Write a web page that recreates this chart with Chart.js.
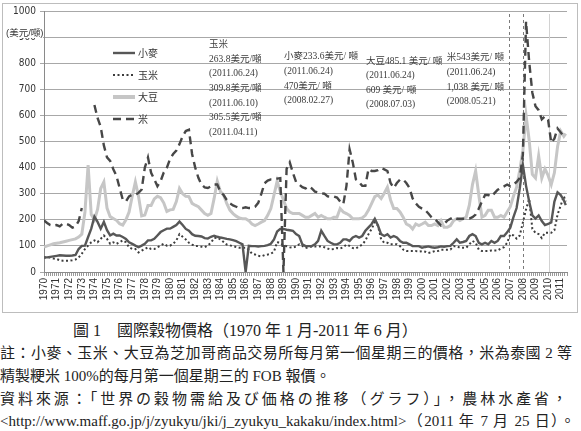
<!DOCTYPE html>
<html><head><meta charset="utf-8">
<script src="https://cdn.jsdelivr.net/npm/chart.js@4.4.1/dist/chart.umd.min.js"></script>
<style>
html,body{margin:0;padding:0;background:#fff;width:581px;height:431px;overflow:hidden;}
#frame{position:absolute;left:2px;top:3px;width:574px;height:308px;border:1px solid #bdbdbd;}
#c{position:absolute;left:0;top:0;}
#unit{position:absolute;left:6px;top:28px;font-size:9.5px;line-height:10px;font-family:'Liberation Sans','Noto Sans CJK TC',sans-serif;color:#333;background:#fff;}
.cap{position:absolute;left:0;white-space:nowrap;font-family:'Liberation Serif','Noto Sans CJK TC',serif;color:#222;line-height:20px;}
.just{white-space:normal;text-align:justify;text-align-last:justify;}
</style></head><body>
<div id="frame"></div>
<canvas id="c" width="581" height="315"></canvas>
<div id="unit">(美元/噸)</div>
<div class="cap" style="left:73px;top:321px;font-size:16px;">圖 1　國際穀物價格（1970 年 1 月-2011 年 6 月）</div>
<div class="cap just" style="top:343px;width:572px;font-size:15px;">註：小麥、玉米、大豆為芝加哥商品交易所每月第一個星期三的價格，米為泰國 2 等</div>
<div class="cap" style="top:366px;font-size:15px;">精製粳米 100%的每月第一個星期三的 FOB 報價。</div>
<div class="cap just" style="top:389px;width:567px;font-size:15px;">資料來源：「世界の穀物需給及び価格の推移（グラフ）」，農林水產省，</div>
<div class="cap just" style="top:411px;width:575px;font-size:15px;">&lt;http://www.maff.go.jp/j/zyukyu/jki/j_zyukyu_kakaku/index.html&gt;（2011 年 7 月 25 日）。</div>
<script>
// Quarterly sample times (Jan, Apr, Jul, Oct) from 1970 to Apr 2011, plus Jun 2011
const quarterYears = [];
for (let k = 0; k < 166; k++) quarterYears.push(1970 + k / 4);
quarterYears.push(2011.4);

const yearLabels = [1970,1971,1972,1973,1974,1975,1976,1977,1978,1979,1980,1981,1982,1983,1984,1985,1986,1987,1988,1989,1990,1991,1992,1993,1994,1995,1996,1997,1998,1999,2000,2001,2002,2003,2004,2005,2006,2007,2008,2009,2010,2011];
const yTickLabels = ['0','100','200','300','400','500','600','700','800','900','1000'];
const seriesNames = ['小麥','玉米','大豆','米'];

const wheat = [
56,56,58,60, 62,64,63,62, 62,63,65,88, 100,101,134,166, 212,192,166,192, 160,140,147,140, 140,134,127,114, 108,101,95,101, 108,121,121,127, 140,153,160,166,
166,173,180,193, 180,165,158,145, 139,138,136,130, 128,135,139,135, 132,130,127,125, 122,118,112,106, 0,100,99,99, 98,99,100,103, 108,125,155,165, 165,162,160,158,
145,138,106,99, 99,99,106,119, 158,138,119,112, 106,106,112,125, 125,119,132,138, 132,138,158,171, 184,204,178,145, 138,145,132,138, 132,119,112,112, 106,99,99,99,
93,96,98,95, 93,95,98,97, 99,100,112,125, 112,115,119,138, 145,138,112,106, 112,106,119,112, 119,138,138,152, 170,210,245,320, 410,330,270,217, 205,217,195,180,
184,190,270,305, 295,275,256];

const corn = [
56,56,56,52, 50,45,43,43, 43,45,48,55, 70,88,101,114, 121,114,127,140, 127,108,114,108, 114,121,114,95, 88,88,75,82, 88,95,88,88, 95,101,108,101,
101,108,121,145, 135,125,112,105, 100,99,97,95, 102,112,130,132, 125,115,105,102, 99,96,93,93, 93,85,70,67, 62,60,65,67, 70,78,115,110, 102,99,95,93,
98,106,100,92, 95,98,98,97, 99,95,90,86, 88,92,90,95, 105,100,92,90, 98,105,120,145, 165,191,178,125, 112,112,106,106, 106,99,86,80, 80,80,80,78,
80,78,73,76, 80,80,85,85, 85,86,99,99, 93,93,93,106, 119,112,86,80, 80,80,82,82, 82,90,95,112, 145,140,128,140, 190,240,280,165, 150,145,130,150,
150,150,160,220, 255,290,270];

const soybean = [
95,100,104,108, 110,112,115,118, 121,124,127,134, 145,230,410,220, 200,240,320,345, 245,212,205,198, 185,180,200,230, 290,345,290,215, 218,255,255,280, 290,285,265,232,
238,240,270,320, 300,290,289,263, 256,250,237,224, 217,224,282,348, 308,295,263,237, 224,214,207,204, 204,197,184,178, 184,191,197,217, 243,295,348,308, 276,243,230,224,
224,224,217,210, 210,217,224,210, 217,210,204,204, 210,210,243,230, 224,217,204,204, 204,207,217,237, 263,289,295,282, 302,325,276,243, 243,230,210,184, 178,165,184,178,
184,191,178,178, 184,178,197,171, 171,178,197,204, 197,204,210,256, 335,387,295,210, 217,237,237,210, 210,217,210,230, 250,290,325,390, 465,600,504,374, 360,445,360,395,
370,335,380,480, 540,520,530];

const rice = [
198,188,180,178, 180,175,185,185, 180,170,175,195, 245,null,null,null, 640,590,556,485, 439,426,394,368, 322,277,270,290, 296,296,303,316, 400,439,380,355, 329,348,381,400,
433,452,465,490, 520,540,545,452, 400,361,335,324, 322,328,335,335, 308,295,276,263, 255,250,245,245, 248,245,245,250, 265,300,340,350, 355,355,358,360, 0,395,420,380,
345,335,325,320, 328,320,308,305, 302,300,290,289, 289,285,270,260, 330,470,420,355, 345,330,330,395, 387,387,390,398, 393,387,341,322, 341,354,354,341, 322,282,263,250,
243,237,224,210, 204,191,178,184, 197,204,210,204, 204,204,204,205, 210,220,243,270, 295,295,289,302, 315,322,328,335, 328,335,345,360, 450,960,805,687, 635,620,585,596,
583,495,511,550, 535,518,520];

// Reference lines (years) and note blocks from the original figure
const markerDashed = [2006.9, 2008.0];
const markerSolid = [2010.05];
const notes = [
  { x: 1983.1, y: 871, lines: ['玉米','263.8美元/噸','(2011.06.24)','309.8美元/噸','(2011.06.10)','305.5美元/噸','(2011.04.11)'] },
  { x: 1989.05, y: 824, lines: ['小麥233.6美元/ 噸','(2011.06.24)','470美元/ 噸','(2008.02.27)'] },
  { x: 1995.55, y: 808, lines: ['大豆485.1 美元/ 噸','(2011.06.24)','609 美元/ 噸','(2008.07.03)'] },
  { x: 2001.95, y: 820, lines: ['米543美元/ 噸','(2011.06.24)','1,038 美元/ 噸','(2008.05.21)'] }
];

function pts(arr) { return arr.map((v, i) => ({ x: quarterYears[i], y: v })); }

const styles = [
  { color: '#575757', width: 2.4, dash: [] },
  { color: '#3c3c3c', width: 2, dash: [2, 2.5] },
  { color: '#c6c6c6', width: 3, dash: [] },
  { color: '#474747', width: 2.4, dash: [8, 5] }
];
const seriesData = [wheat, corn, soybean, rice];
const orders = [2, 3, 4, 1];

const datasets = seriesData.map((arr, i) => ({
  label: seriesNames[i],
  data: pts(arr),
  borderColor: styles[i].color,
  borderWidth: styles[i].width,
  borderDash: styles[i].dash,
  pointRadius: 0,
  tension: 0,
  fill: false,
  spanGaps: false,
  order: orders[i]
}));

const decor = {
  id: 'decor',
  beforeDatasetsDraw(chart) {
    const { ctx, chartArea, scales: { x } } = chart;
    ctx.save();
    ctx.lineWidth = 1;
    ctx.strokeStyle = '#7a7a7a';
    ctx.setLineDash([3, 3]);
    markerDashed.forEach(v => {
      const px = Math.round(x.getPixelForValue(v)) + 0.5;
      ctx.beginPath(); ctx.moveTo(px, chartArea.top + 3); ctx.lineTo(px, chartArea.bottom); ctx.stroke();
    });
    ctx.setLineDash([]);
    ctx.strokeStyle = '#d2d2d2';
    markerSolid.forEach(v => {
      const px = Math.round(x.getPixelForValue(v)) + 0.5;
      ctx.beginPath(); ctx.moveTo(px, chartArea.top + 3); ctx.lineTo(px, chartArea.bottom); ctx.stroke();
    });
    ctx.restore();
  },
  afterDraw(chart) {
    const { ctx, chartArea, scales: { x, y } } = chart;
    ctx.save();
    ctx.fillStyle = '#3a3a3a';
    ctx.font = "9.5px 'Liberation Serif','Noto Sans CJK TC',serif";
    ctx.textBaseline = 'middle';
    ctx.textAlign = 'left';
    notes.forEach(n => {
      const px = x.getPixelForValue(n.x), py = y.getPixelForValue(n.y);
      n.lines.forEach((t, j) => ctx.fillText(t, px, py + j * 14.6));
    });
    ctx.font = "10px 'Noto Sans CJK TC',sans-serif";
    ctx.fillStyle = '#333';
    const lx = chartArea.left + 69, ly = chartArea.top + 42;
    seriesNames.forEach((name, i) => {
      const yy = ly + i * 22;
      ctx.strokeStyle = styles[i].color;
      ctx.lineWidth = styles[i].width + (i === 2 ? 1 : 0);
      ctx.setLineDash(styles[i].dash);
      ctx.beginPath(); ctx.moveTo(lx, yy); ctx.lineTo(lx + 22, yy); ctx.stroke();
      ctx.setLineDash([]);
      ctx.fillText(name, lx + 25, yy);
    });
    ctx.restore();
  }
};

new Chart(document.getElementById('c').getContext('2d'), {
  type: 'line',
  data: { datasets },
  options: {
    responsive: false,
    animation: false,
    devicePixelRatio: 1,
    layout: { padding: { left: 0, right: 0, top: 11, bottom: 0 } },
    plugins: { legend: { display: false }, tooltip: { enabled: false } },
    scales: {
      x: {
        type: 'linear',
        min: 1970,
        max: 2011.5,
        afterBuildTicks(scale) {
          const t = [];
          for (let m = 0; m <= 498; m += 2) t.push({ value: 1970 + m / 12 });
          scale.ticks = t;
        },
        afterFit(scale) { scale.height = 43; },
        ticks: {
          autoSkip: false,
          minRotation: 90,
          maxRotation: 90,
          padding: 2,
          color: '#333',
          font: { family: "'Liberation Sans',sans-serif", size: 10 },
          callback(v) {
            const r = Math.round(v);
            return (Math.abs(v - r) < 1e-6 && yearLabels.includes(r)) ? String(r) : '';
          }
        },
        grid: { drawOnChartArea: false, drawTicks: true, tickLength: 4, color: '#9a9a9a' },
        border: { display: true, color: '#8a8a8a' }
      },
      y: {
        min: 0,
        max: 1000,
        afterBuildTicks(scale) { scale.ticks = yTickLabels.map(s => ({ value: Number(s) })); },
        afterFit(scale) { scale.width = 44; },
        ticks: {
          padding: 4,
          color: '#333',
          font: { family: "'Liberation Sans Narrow','DejaVu Sans Condensed','Liberation Sans',sans-serif", size: 10 },
          format: { useGrouping: false }
        },
        grid: { color: '#a8a8a8', lineWidth: 1, tickLength: 4 },
        border: { display: true, color: '#8a8a8a' }
      }
    }
  },
  plugins: [decor]
});
</script>
</body></html>
